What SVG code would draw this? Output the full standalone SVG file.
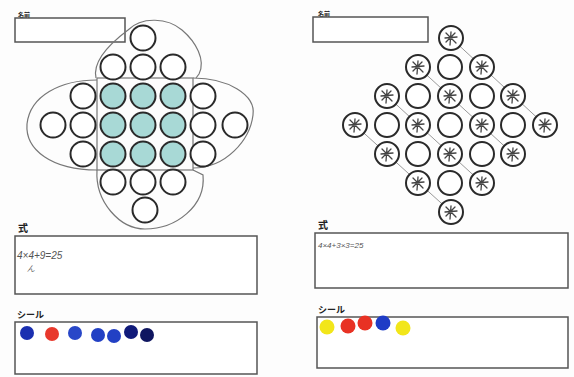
<svg xmlns="http://www.w3.org/2000/svg" xmlns:xlink="http://www.w3.org/1999/xlink" width="574" height="377" viewBox="0 0 574 377">
<style>
.box{fill:#fff;stroke:#555;stroke-width:1.5}
.c{fill:#fff;stroke:#2a2a2a;stroke-width:2}
.s{fill:#a8d9d6;stroke:#2a2a2a;stroke-width:2}
.blob{fill:none;stroke:#777;stroke-width:1.2}
.diag{stroke:#999;stroke-width:1}
.lbl{font-family:"Noto Sans CJK JP","Noto Sans",sans-serif;font-weight:bold;fill:#222}
.hand{font-family:"Liberation Sans",sans-serif;fill:#555;font-style:italic}
.mk{stroke:#444;stroke-width:1.3;fill:none;stroke-linecap:round}
</style>
<defs>
<g id="mark" class="mk">
<path d="M-5,-5 L5,5 M-6,0 L6,-1 M0,-6 L-1,7 M-5,4 L4,-5"/>
</g>
</defs>
<rect width="574" height="377" fill="#fdfdfd"/>

<!-- Left panel -->
<g id="left-name">
<text class="lbl" x="18" y="17" font-size="6">名前</text>
<rect class="box" x="15" y="18" width="110" height="24"/>
</g>
<g id="left-blobs">
<path class="blob" d="M96,78 C92,60 112,42 128,30 C142,16 168,18 182,30 C196,42 206,60 199,74 L196,78"/>
<path class="blob" d="M97,80 C60,80 30,96 27,124 C25,150 52,170 97,170"/>
<path class="blob" d="M193,78 C228,78 256,95 253,115 C250,140 226,168 193,168"/>
<path class="blob" d="M97,170 C95,202 120,229 145,229 C176,229 206,206 203,175 L193,170"/>
<rect class="blob" x="97" y="78" width="96" height="92"/>
</g>
<g id="left-grid">
<circle class="c" cx="143" cy="38" r="12.5"/>
<circle class="c" cx="113" cy="67" r="12.5"/><circle class="c" cx="143" cy="67" r="12.5"/><circle class="c" cx="173" cy="67" r="12.5"/>
<circle class="c" cx="83" cy="96" r="12.5"/><circle class="s" cx="113" cy="96" r="12.5"/><circle class="s" cx="143" cy="96" r="12.5"/><circle class="s" cx="173" cy="96" r="12.5"/><circle class="c" cx="203" cy="96" r="12.5"/>
<circle class="c" cx="53" cy="125" r="12.5"/><circle class="c" cx="83" cy="125" r="12.5"/><circle class="s" cx="113" cy="125" r="12.5"/><circle class="s" cx="143" cy="125" r="12.5"/><circle class="s" cx="173" cy="125" r="12.5"/><circle class="c" cx="203" cy="125" r="12.5"/><circle class="c" cx="235" cy="125" r="12.5"/>
<circle class="c" cx="83" cy="154" r="12.5"/><circle class="s" cx="113" cy="154" r="12.5"/><circle class="s" cx="143" cy="154" r="12.5"/><circle class="s" cx="173" cy="154" r="12.5"/><circle class="c" cx="203" cy="154" r="12.5"/>
<circle class="c" cx="113" cy="182" r="12.5"/><circle class="c" cx="143" cy="182" r="12.5"/><circle class="c" cx="173" cy="182" r="12.5"/>
<circle class="c" cx="145" cy="210" r="12.5"/>
</g>
<g id="left-formula">
<text class="lbl" x="18" y="232" font-size="10">式</text>
<rect class="box" x="15" y="236" width="242" height="58"/>
<text class="hand" x="17" y="259" font-size="10">4×4+9=25</text>
<text class="hand" x="27" y="271" font-size="8">ん</text>
</g>
<g id="left-stickers">
<text class="lbl" x="17" y="318" font-size="9">シール</text>
<rect class="box" x="15" y="322" width="242" height="52"/>
<circle cx="27" cy="333" r="7" fill="#1a2fb0"/>
<circle cx="52" cy="334" r="7" fill="#e8382c"/>
<circle cx="75" cy="333" r="7" fill="#2847c8"/>
<circle cx="98" cy="335" r="7" fill="#2240c4"/>
<circle cx="114" cy="336" r="7" fill="#2240c4"/>
<circle cx="131" cy="332" r="7" fill="#101a7a"/>
<circle cx="147" cy="335" r="7" fill="#0f1660"/>
</g>

<!-- Right panel -->
<g id="right-name">
<text class="lbl" x="318" y="16" font-size="6">名前</text>
<rect class="box" x="313" y="17" width="115" height="25"/>
</g>
<g id="connectors">
<line class="diag" x1="451" y1="38" x2="545" y2="125"/>
<line class="diag" x1="418" y1="67" x2="513" y2="154"/>
<line class="diag" x1="387" y1="96" x2="482" y2="183"/>
<line class="diag" x1="355" y1="125" x2="451" y2="212"/>
</g>
<g id="right-grid">
<circle class="c" cx="451" cy="38" r="12"/><use href="#mark" x="451" y="38"/>
<circle class="c" cx="418" cy="67" r="12"/><use href="#mark" x="418" y="67"/>
<circle class="c" cx="450" cy="67" r="12"/>
<circle class="c" cx="482" cy="67" r="12"/><use href="#mark" x="482" y="67"/>
<circle class="c" cx="387" cy="96" r="12"/><use href="#mark" x="387" y="96"/>
<circle class="c" cx="418" cy="96" r="12"/>
<circle class="c" cx="450" cy="96" r="12"/><use href="#mark" x="450" y="96"/>
<circle class="c" cx="482" cy="96" r="12"/>
<circle class="c" cx="513" cy="96" r="12"/><use href="#mark" x="513" y="96"/>
<circle class="c" cx="355" cy="125" r="12"/><use href="#mark" x="355" y="125"/>
<circle class="c" cx="387" cy="125" r="12"/>
<circle class="c" cx="418" cy="125" r="12"/><use href="#mark" x="418" y="125"/>
<circle class="c" cx="450" cy="125" r="12"/>
<circle class="c" cx="482" cy="125" r="12"/><use href="#mark" x="482" y="125"/>
<circle class="c" cx="513" cy="125" r="12"/>
<circle class="c" cx="545" cy="125" r="12"/><use href="#mark" x="545" y="125"/>
<circle class="c" cx="387" cy="154" r="12"/><use href="#mark" x="387" y="154"/>
<circle class="c" cx="418" cy="154" r="12"/>
<circle class="c" cx="450" cy="154" r="12"/><use href="#mark" x="450" y="154"/>
<circle class="c" cx="482" cy="154" r="12"/>
<circle class="c" cx="513" cy="154" r="12"/><use href="#mark" x="513" y="154"/>
<circle class="c" cx="418" cy="183" r="12"/><use href="#mark" x="418" y="183"/>
<circle class="c" cx="450" cy="183" r="12"/>
<circle class="c" cx="482" cy="183" r="12"/><use href="#mark" x="482" y="183"/>
<circle class="c" cx="451" cy="212" r="12"/><use href="#mark" x="451" y="212"/>
</g>
<g id="right-formula">
<text class="lbl" x="318" y="229" font-size="10">式</text>
<rect class="box" x="315" y="233" width="253" height="55"/>
<text class="hand" x="318" y="248" font-size="8">4×4+3×3=25</text>
</g>
<g id="right-stickers">
<text class="lbl" x="318" y="313" font-size="9">シール</text>
<rect class="box" x="317" y="317" width="251" height="51"/>
<circle cx="327" cy="327" r="7.5" fill="#f2e61a"/>
<circle cx="348" cy="326" r="7.5" fill="#e83224"/>
<circle cx="365" cy="323" r="7.5" fill="#e83224"/>
<circle cx="383" cy="323" r="7.5" fill="#1f3cc6"/>
<circle cx="403" cy="328" r="7.5" fill="#f2e61a"/>
</g>
</svg>
